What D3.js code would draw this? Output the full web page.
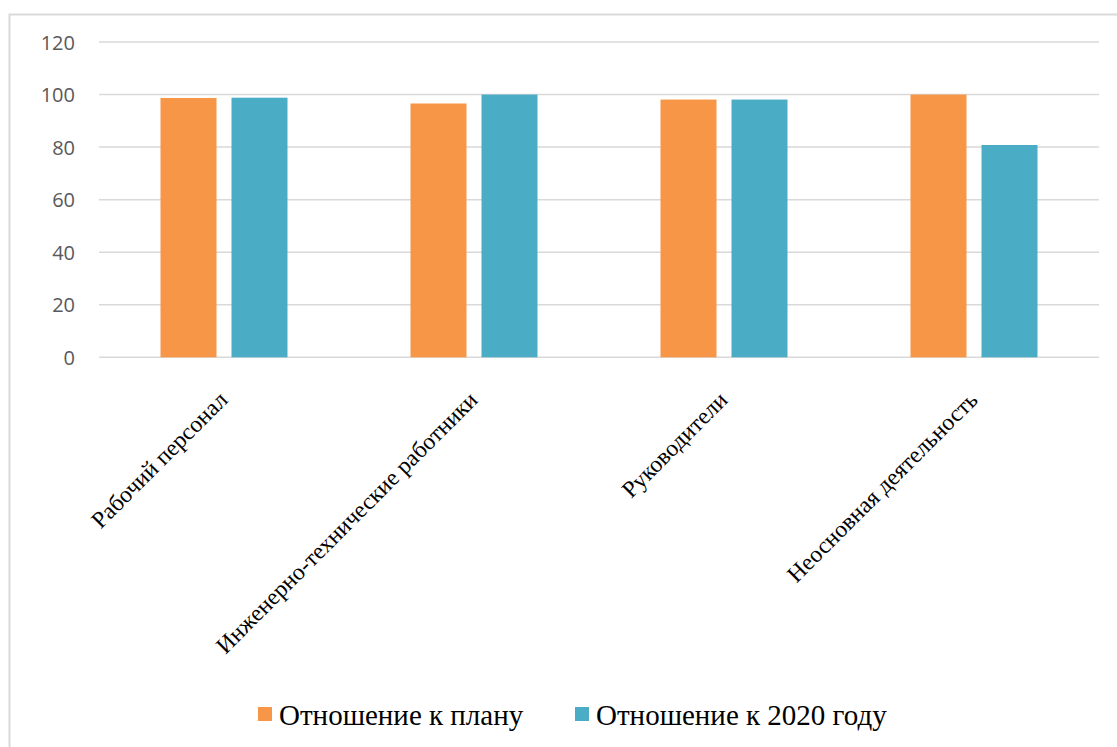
<!DOCTYPE html>
<html>
<head>
<meta charset="utf-8">
<script src="https://cdn.jsdelivr.net/npm/d3@7"></script>
<style>
  html, body { margin: 0; padding: 0; background: #fff; }
  svg { display: block; }
</style>
</head>
<body>
<svg id="chart" width="1117" height="747"></svg>
<script>
// Staff categories and two ratio series (percent)
const categories = ["Рабочий персонал", "Инженерно-технические работники", "Руководители", "Неосновная деятельность"];
const seriesNames = ["Отношение к плану", "Отношение к 2020 году"];
const planRatio = [98.7, 96.6, 98.1, 100];
const yearRatio = [98.8, 100, 98.1, 80.8];
const yTicks = [0, 20, 40, 60, 80, 100, 120];
const colors = ["#F79646", "#4BACC6"];

const svg = d3.select("#chart");
const W = 1117, H = 747;

// Outer chart frame
svg.append("rect")
  .attr("x", 9.5).attr("y", 14.5)
  .attr("width", W + 10).attr("height", H + 10)
  .attr("fill", "#fff").attr("stroke", "#d9d9d9").attr("stroke-width", 2);

const plot = { left: 99, right: 1099, top: 42, bottom: 357.3 };

const x = d3.scaleBand().domain(categories).range([plot.left, plot.right]);
const y = d3.scaleLinear().domain([0, 120]).range([plot.bottom, plot.top]);

// Horizontal gridlines
svg.append("g").selectAll("line").data(yTicks).join("line")
  .attr("x1", plot.left).attr("x2", plot.right)
  .attr("y1", d => y(d)).attr("y2", d => y(d))
  .attr("stroke", "#d9d9d9").attr("stroke-width", 1.5);

// Y axis labels
const yAxis = d3.axisLeft(y).tickValues(yTicks).tickSize(0).tickPadding(0);
const gy = svg.append("g").attr("transform", `translate(${plot.left - 24},0)`).call(yAxis);
gy.select(".domain").remove();
gy.selectAll("text")
  .attr("fill", "#595959")
  .style("font-family", "'Open Sans', 'Liberation Sans', sans-serif")
  .style("font-size", "20px")
  .attr("dy", "0.35em");

// Bars
const barW = 56, gap = 15;
const series = [planRatio, yearRatio];
series.forEach((vals, si) => {
  svg.append("g").selectAll("rect").data(vals).join("rect")
    .attr("x", (d, i) => x(categories[i]) + x.bandwidth() / 2 + (si === 0 ? -gap / 2 - barW : gap / 2))
    .attr("y", d => y(d))
    .attr("width", barW)
    .attr("height", d => y(0) - y(d))
    .attr("fill", colors[si]);
});

// Category labels rotated -45°
svg.append("g").selectAll("text").data(categories).join("text")
  .attr("transform", d => `translate(${x(d) + x.bandwidth() / 2 + 5},${plot.bottom + 44}) rotate(-45)`)
  .attr("text-anchor", "end")
  .style("font-family", "'Liberation Serif', 'Times New Roman', serif")
  .style("font-size", "23.5px")
  .attr("fill", "#000")
  .text(d => d);

// Legend
const legendItems = [
  { name: seriesNames[0], color: colors[0], x: 258 },
  { name: seriesNames[1], color: colors[1], x: 575 }
];
const lg = svg.append("g");
legendItems.forEach(it => {
  lg.append("rect").attr("x", it.x).attr("y", 707).attr("width", 14).attr("height", 14).attr("fill", it.color);
  lg.append("text")
    .attr("x", it.x + 21).attr("y", 724.5)
    .style("font-family", "'Liberation Serif', 'Times New Roman', serif")
    .style("font-size", "29px")
    .attr("fill", "#000")
    .text(it.name);
});
</script>
</body>
</html>
